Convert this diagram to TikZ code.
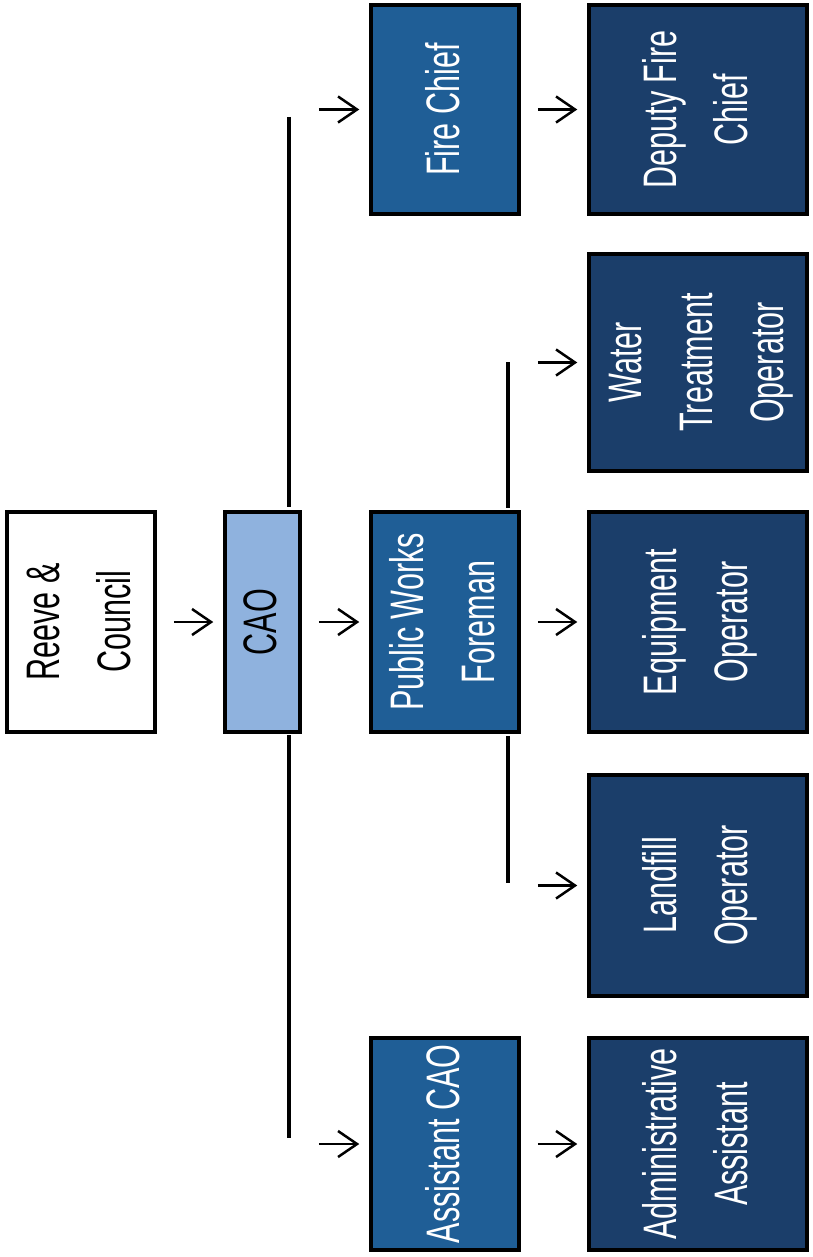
\documentclass[tikz,border=0pt]{standalone}
\usepackage{fontspec}
\setmainfont{Liberation Sans}[FakeStretch=0.65]
\usepackage{tikz}
\usetikzlibrary{arrows.meta}

\definecolor{caoblue}{RGB}{143,178,222}
\definecolor{midblue}{RGB}{31,94,150}
\definecolor{darkblue}{RGB}{27,62,106}

\newcommand{\vtext}[1]{\rotatebox{90}{\begin{tabular}{@{}c@{}}#1\end{tabular}}}

\begin{document}
\begin{tikzpicture}[x=1pt, y=-1pt, line width=3.5pt,
  box/.style={draw=black, rectangle, inner sep=0pt, text=white,
    font=\fontsize{47}{71}\selectfont},
  arr/.style={-{Straight Barb[length=19pt, width=26pt]}, line width=2.5pt,
    shorten <=17pt, shorten >=10pt}]

  \useasboundingbox (0,0) rectangle (812,1257);

  % top of the chart
  \draw (81,622) node[box, name=reeve, fill=white, text=black,
    minimum width=148pt, minimum height=220pt] {\vtext{Reeve \&\\Council}};
  \draw (262.5,622) node[box, name=cao, fill=caoblue, text=black,
    minimum width=75pt, minimum height=220pt] {\vtext{CAO}};

  % department heads
  \draw (445,109.5) node[box, name=fire, fill=midblue,
    minimum width=148pt, minimum height=209pt] {\vtext{Fire Chief}};
  \draw (445,622) node[box, name=pwf, fill=midblue,
    minimum width=148pt, minimum height=220pt] {\vtext{Public Works\\Foreman}};
  \draw (445,1144) node[box, name=asst, fill=midblue,
    minimum width=148pt, minimum height=212pt] {\vtext{Assistant CAO}};

  % staff
  \draw (698,109.5) node[box, name=deputy, fill=darkblue,
    minimum width=218pt, minimum height=209pt] {\vtext{Deputy Fire\\Chief}};
  \draw (698,362.5) node[box, name=water, fill=darkblue,
    minimum width=218pt, minimum height=217pt] {\vtext{Water\\Treatment\\Operator}};
  \draw (698,622) node[box, name=equip, fill=darkblue,
    minimum width=218pt, minimum height=220pt] {\vtext{Equipment\\Operator}};
  \draw (698,885.5) node[box, name=landfill, fill=darkblue,
    minimum width=218pt, minimum height=221pt] {\vtext{Landfill\\Operator}};
  \draw (698,1144) node[box, name=admin, fill=darkblue,
    minimum width=218pt, minimum height=212pt] {\vtext{Administrative\\Assistant}};

  % bars
  \coordinate (c1) at (289,117);
  \coordinate (c2) at (289,507);
  \coordinate (c3) at (289,735);
  \coordinate (c4) at (289,1138);
  \coordinate (p1) at (508,362);
  \coordinate (p2) at (508,508);
  \coordinate (p3) at (508,736);
  \coordinate (p4) at (508,883);
  \draw (c1) -- (c2);
  \draw (c3) -- (c4);
  \draw (p1) -- (p2);
  \draw (p3) -- (p4);

  % arrows
  \draw [arr] (reeve.east) -- (cao.west);
  \draw [arr] (fire.west -| cao.east) -- (fire.west);
  \draw [arr] (cao.east) -- (pwf.west);
  \draw [arr] (asst.west -| cao.east) -- (asst.west);
  \draw [arr] (fire.east) -- (deputy.west);
  \draw [arr] (water.west -| pwf.east) -- (water.west);
  \draw [arr] (pwf.east) -- (equip.west);
  \draw [arr] (landfill.west -| pwf.east) -- (landfill.west);
  \draw [arr] (asst.east) -- (admin.west);

\end{tikzpicture}
\end{document}
